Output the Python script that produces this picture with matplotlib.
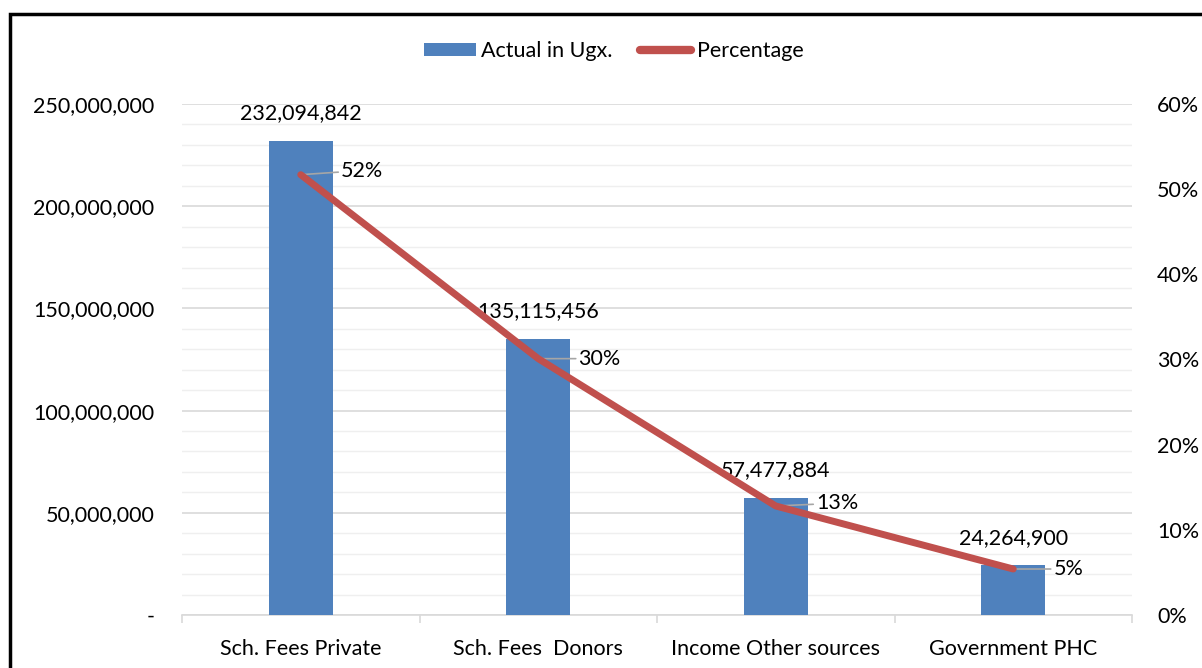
import matplotlib.pyplot as plt
from matplotlib.ticker import FuncFormatter, MultipleLocator
from matplotlib.patches import Rectangle

categories = ["Sch. Fees Private", "Sch. Fees  Donors", "Income Other sources", "Government PHC"]
actual = [232094842, 135115456, 57477884, 24264900]
percentage = [0.517, 0.301, 0.128, 0.054]
pct_labels = ["52%", "30%", "13%", "5%"]

plt.rcParams['font.family'] = ['Lato', 'DejaVu Sans']
blue = "#4f81bd"
red = "#c0504d"
grid_col = "#d9d9d9"
fs = 15.5

W, H = 1202, 668
fig = plt.figure(figsize=(W / 100, H / 100), dpi=100)
ax = fig.add_axes([182 / W, 1 - 615 / H, (1132 - 182) / W, (615 - 104) / H])
ax2 = ax.twinx()

x = list(range(len(categories)))
bars = ax.bar(x, actual, width=0.27, color=blue, zorder=3, label="Actual in Ugx.")
ax.set_xlim(-0.5, len(categories) - 0.5)
ax.set_ylim(0, 250000000)
ax.yaxis.set_major_locator(MultipleLocator(50000000))
ax.yaxis.set_minor_locator(MultipleLocator(10000000))
ax.yaxis.set_major_formatter(FuncFormatter(lambda v, p: "-" if v == 0 else f"{v:,.0f}"))
ax.grid(axis="y", which="major", color=grid_col, linewidth=1.2, zorder=0)
ax.grid(axis="y", which="minor", color="#efefef", linewidth=1.0, zorder=0)
ax.set_axisbelow(True)

for s in ["top", "right", "left"]:
    ax.spines[s].set_visible(False)
    ax2.spines[s].set_visible(False)
ax.spines["bottom"].set_color(grid_col)
ax.spines["bottom"].set_linewidth(1.2)
ax2.spines["bottom"].set_visible(False)

ax.set_xticks(x)
ax.set_xticklabels(categories, fontsize=fs)
ax.tick_params(axis="x", length=0, pad=17)
ax.set_xticks([i - 0.5 for i in range(len(categories) + 1)], minor=True)
ax.tick_params(axis="x", which="minor", length=6, color=grid_col, width=1.2)
ax.tick_params(axis="y", which="both", length=0, labelsize=fs, pad=20)

ax2.plot(x, percentage, color=red, linewidth=5, solid_capstyle="round", zorder=4, label="Percentage")
ax2.set_ylim(0, 0.6)
ax2.yaxis.set_major_locator(MultipleLocator(0.1))
ax2.yaxis.set_major_formatter(FuncFormatter(lambda v, p: f"{v * 100:.0f}%"))
ax2.tick_params(axis="y", length=0, labelsize=fs, pad=18)

for xi, v in zip(x, actual):
    ax.text(xi, v + 8500000, f"{v:,}", ha="center", va="bottom", fontsize=fs, zorder=5)

for xi, p, lab in zip(x, percentage, pct_labels):
    dy = 3 if xi == 0 else (2 if xi == 2 else 0)
    ax2.annotate(lab, xy=(xi, p), xytext=(29, dy), textcoords="offset points",
                 ha="left", va="center", fontsize=fs,
                 arrowprops=dict(arrowstyle="-", color="#a6a6a6", lw=1.2,
                                 shrinkA=0, shrinkB=1))

h1, l1 = ax.get_legend_handles_labels()
h2, l2 = ax2.get_legend_handles_labels()
leg = fig.legend(h1 + h2, l1 + l2, loc="center", bbox_to_anchor=(614 / W, 1 - 51 / H),
                 ncol=2, frameon=False, fontsize=fs, handlelength=2.4, handleheight=0.55,
                 handletextpad=0.25, columnspacing=1.25)
leg.get_lines()[0].set_linewidth(6) if leg.get_lines() else None

fig.patches.append(Rectangle((10 / W, -0.05), 1.1, 1.05 - 14 / H,
                             transform=fig.transFigure, fill=False,
                             edgecolor="black", linewidth=2.5))

fig.savefig("out.png", dpi=100)
